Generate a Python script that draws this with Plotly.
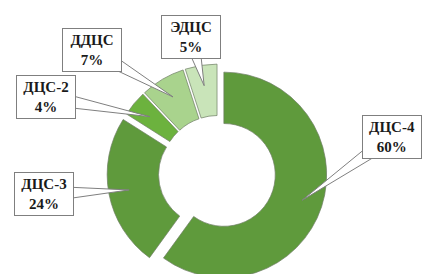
import math
import plotly.graph_objects as go

# ---- data ----
labels = ["ДЦС-4", "ДЦС-3", "ДЦС-2", "ДДЦС", "ЭДЦС"]
values = [60, 24, 4, 7, 5]

# ---- styles / layout ----
colors = ["#5f9a3c", "#5f9a3c", "#6cb23e", "#a9d38d", "#c9e4b9"]
pulls = [0.06, 0.08, 0.06, 0.06, 0.06]
label_px = [(392, 137), (44, 194), (46, 97), (92, 50), (191, 37)]  # label box centres (px)

W, H = 422, 286          # canvas slightly taller than the 274px window: donut bottom is cropped as in the reference
HOLE = 0.5
dom_x = [107 / W, 329 / W]
dom_y = [1 - 284 / H, 1 - 62 / H]

fig = go.Figure(go.Pie(
    labels=labels, values=values, sort=False, direction="clockwise", rotation=0,
    hole=HOLE, pull=pulls, textinfo="none", hoverinfo="label+percent",
    marker=dict(colors=colors, line=dict(color="rgba(110,125,100,0.7)", width=1)),
    domain=dict(x=dom_x, y=dom_y), showlegend=False,
))

# replicate plotly pie geometry to place callout tips on the slices
box_w = W * (dom_x[1] - dom_x[0])
box_h = H * (dom_y[1] - dom_y[0])
r = min(box_w, box_h) / (2 + 2 * max(pulls))
cx = W * (dom_x[0] + dom_x[1]) / 2
cy = H * (1 - dom_y[0]) - box_h / 2

def to_paper(px, py):
    return px / W, 1 - py / H

total = sum(values)
cum = 0
for lab, v, p, (lx, ly) in zip(labels, values, pulls, label_px):
    mid = (cum + v / 2) / total
    cum += v
    th = 2 * math.pi * mid
    rt = r * 0.8 + p * r
    tx = cx + math.sin(th) * rt
    ty = cy - math.cos(th) * rt
    # wedge-shaped callout pointer from the label box to the slice
    dx, dy = tx - lx, ty - ly
    L = math.hypot(dx, dy)
    nx, ny = -dy / L * 8, dx / L * 8
    pts = [to_paper(lx + nx, ly + ny), to_paper(tx, ty), to_paper(lx - nx, ly - ny)]
    path = "M {} {} L {} {} L {} {} Z".format(*[c for pt in pts for c in pt])
    fig.add_shape(type="path", path=path, xref="paper", yref="paper",
                  fillcolor="white", line=dict(color="#7f7f7f", width=1), layer="above")
    pct = round(100 * v / total)
    fig.add_annotation(
        x=lx / W, y=1 - ly / H, xref="paper", yref="paper",
        text=f"{lab}<br>{pct}%", showarrow=False,
        font=dict(family="Liberation Serif, Times New Roman, serif", size=15,
                  color="#1a1a1a", weight="bold"),
        bgcolor="white", bordercolor="#7f7f7f", borderwidth=1, borderpad=3,
        width=52, height=36, align="center", xanchor="center", yanchor="middle",
    )

fig.update_layout(
    width=W, height=H, margin=dict(l=0, r=0, t=0, b=0),
    paper_bgcolor="white", plot_bgcolor="white",
)
fig.write_html(
    "out.html",
    config={"displayModeBar": False},
    post_script="document.body.style.margin='0';document.body.style.overflow='hidden';"
                "document.documentElement.style.overflow='hidden';",
)
